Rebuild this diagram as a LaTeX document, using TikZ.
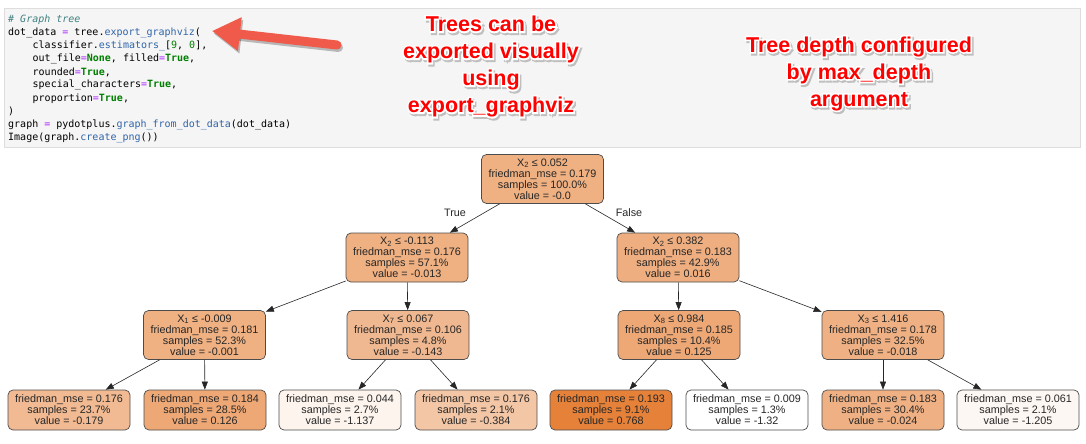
\documentclass[tikz,border=0pt]{standalone}
\usepackage{fontspec}
\setmainfont{Liberation Sans}
\setmonofont{DejaVu Sans Mono}
\newfontface\halofont{Liberation Sans Bold}[FakeBold=15]
\usetikzlibrary{arrows.meta}

\definecolor{gvorange}{HTML}{E58139}
\definecolor{cellbg}{HTML}{F5F5F5}
\definecolor{cellrule}{HTML}{DDDDDD}
\definecolor{pycomment}{HTML}{408080}
\definecolor{pyop}{HTML}{AA22FF}
\definecolor{pyconst}{HTML}{008000}
\definecolor{pyattr}{HTML}{2F64A8}
\definecolor{callout}{HTML}{EF5A4A}
\definecolor{notered}{HTML}{FF0000}

\newcommand\pyo[1]{\textcolor{pyop}{#1}}
\newcommand\pyk[1]{\textcolor{pyconst}{\bfseries #1}}
\newcommand\pyn[1]{\textcolor{pyconst}{#1}}
\newcommand\pya[1]{\textcolor{pyattr}{#1}}
\newcommand\notetext[1]{\makebox[0pt][l]{\hspace{1.5pt}\raisebox{-2pt}{\halofont\color{black!25}#1}}\makebox[0pt][l]{\halofont\color{white}#1}#1}

\begin{document}
\begin{tikzpicture}[x=1pt, y=-1pt,
		>={Triangle[length=8pt,width=6pt]},
		splitnode/.style={draw=black!70, line width=0.7pt, rounded corners=5pt, minimum width=122pt, minimum height=49pt, inner sep=0pt, align=center, text=black!85, font=\fontsize{10.8}{11}\selectfont},
		leafnode/.style={splitnode, minimum height=40pt},
		treeedge/.style={->, line width=0.6pt, draw=black!85},
		codeline/.style={anchor=base west, inner sep=0pt, font=\ttfamily\fontsize{10}{12}\selectfont},
		note/.style={align=center, inner sep=0pt, text=notered, font=\bfseries\fontsize{21.5}{27}\selectfont}]
	\useasboundingbox (0,0) rectangle (1086,444);
	% notebook cell
	\draw[cellrule, fill=cellbg] (4,8) rectangle (1080,147);
	\node[codeline] (c1) at (8,22.8) {\textcolor{pycomment}{\itshape \# Graph tree}};
	\node[codeline] (c2) at (8,35.8) {dot\_data \pyo{=} tree.\pya{export\_graphviz}(};
	\node[codeline] (c3) at (32.5,48.9) {classifier.\pya{estimators\_}[\pyn{9}, \pyn{0}],};
	\node[codeline] (c4) at (32.5,61.9) {out\_file\pyo{=}\pyk{None}, filled\pyo{=}\pyk{True},};
	\node[codeline] (c5) at (32.5,75.0) {rounded\pyo{=}\pyk{True},};
	\node[codeline] (c6) at (32.5,88.0) {special\_characters\pyo{=}\pyk{True},};
	\node[codeline] (c7) at (32.5,101.0) {proportion\pyo{=}\pyk{True},};
	\node[codeline] (c8) at (8,114.1) {)};
	\node[codeline] (c9) at (8,127.1) {graph \pyo{=} pydotplus.\pya{graph\_from\_dot\_data}(dot\_data)};
	\node[codeline] (c10) at (8,140.2) {Image(graph.\pya{create\_png}())};
	% callouts
	\coordinate (calltail) at (337,45);
	\coordinate (calltip) at (212,31);
	\draw[black, opacity=0.25, line width=9pt, line cap=round, -{Triangle[length=28pt,width=32pt]}] ([shift={(1.5,2.5)}]calltail) -- ([shift={(1.5,2.5)}]calltip);
	\draw[callout, line width=9pt, line cap=round, -{Triangle[length=28pt,width=32pt]}] (calltail) -- (calltip);
	\node[note] (exportnote) at (491,67.5) {\notetext{Trees can be}\\\notetext{exported visually}\\\notetext{using}\\\notetext{export\_graphviz}};
	\node[note] (depthnote) at (859,74.5) {\notetext{Tree depth configured}\\\notetext{by max\_depth}\\\notetext{argument}};
	% tree
	\node[splitnode, fill=gvorange!63!white] (root) at (542.5,179) {X\textsubscript{2} ≤ 0.052\\friedman\_mse = 0.179\\samples = 100.0\%\\value = -0.0};
	\node[splitnode, fill=gvorange!63!white] (n1) at (407,257.5) {X\textsubscript{2} ≤ -0.113\\friedman\_mse = 0.176\\samples = 57.1\%\\value = -0.013};
	\node[splitnode, fill=gvorange!64!white] (n2) at (678,257.5) {X\textsubscript{2} ≤ 0.382\\friedman\_mse = 0.183\\samples = 42.9\%\\value = 0.016};
	\node[splitnode, fill=gvorange!63!white] (n3) at (204.5,335) {X\textsubscript{1} ≤ -0.009\\friedman\_mse = 0.181\\samples = 52.3\%\\value = -0.001};
	\node[splitnode, fill=gvorange!56!white] (n4) at (408,335) {X\textsubscript{7} ≤ 0.067\\friedman\_mse = 0.106\\samples = 4.8\%\\value = -0.143};
	\node[splitnode, fill=gvorange!69!white] (n5) at (679,335) {X\textsubscript{8} ≤ 0.984\\friedman\_mse = 0.185\\samples = 10.4\%\\value = 0.125};
	\node[splitnode, fill=gvorange!62!white] (n6) at (883,335) {X\textsubscript{3} ≤ 1.416\\friedman\_mse = 0.178\\samples = 32.5\%\\value = -0.018};
	\node[leafnode, fill=gvorange!55!white] (l1) at (69,410) {friedman\_mse = 0.176\\samples = 23.7\%\\value = -0.179};
	\node[leafnode, fill=gvorange!69!white] (l2) at (205,410) {friedman\_mse = 0.184\\samples = 28.5\%\\value = 0.126};
	\node[leafnode, fill=gvorange!9!white] (l3) at (340,410) {friedman\_mse = 0.044\\samples = 2.7\%\\value = -1.137};
	\node[leafnode, fill=gvorange!45!white] (l4) at (476,410) {friedman\_mse = 0.176\\samples = 2.1\%\\value = -0.384};
	\node[leafnode, fill=gvorange] (l5) at (611,410) {friedman\_mse = 0.193\\samples = 9.1\%\\value = 0.768};
	\node[leafnode, fill=white] (l6) at (747,410) {friedman\_mse = 0.009\\samples = 1.3\%\\value = -1.32};
	\node[leafnode, fill=gvorange!62!white] (l7) at (883,410) {friedman\_mse = 0.183\\samples = 30.4\%\\value = -0.024};
	\node[leafnode, fill=gvorange!6!white] (l8) at (1018,410) {friedman\_mse = 0.061\\samples = 2.1\%\\value = -1.205};
	\node[font=\fontsize{10.8}{11}\selectfont, text=black!85] (truelbl) at (455,213) {True};
	\node[font=\fontsize{10.8}{11}\selectfont, text=black!85] (falselbl) at (629,213) {False};
	\draw[treeedge] (root) -- (n1);
	\draw[treeedge] (root) -- (n2);
	\draw[treeedge] (n1) -- (n3);
	\draw[treeedge] (n1) -- (n4);
	\draw[treeedge] (n2) -- (n5);
	\draw[treeedge] (n2) -- (n6);
	\draw[treeedge] (n3) -- (l1);
	\draw[treeedge] (n3) -- (l2);
	\draw[treeedge] (n4) -- (l3);
	\draw[treeedge] (n4) -- (l4);
	\draw[treeedge] (n5) -- (l5);
	\draw[treeedge] (n5) -- (l6);
	\draw[treeedge] (n6) -- (l7);
	\draw[treeedge] (n6) -- (l8);
\end{tikzpicture}
\end{document}
